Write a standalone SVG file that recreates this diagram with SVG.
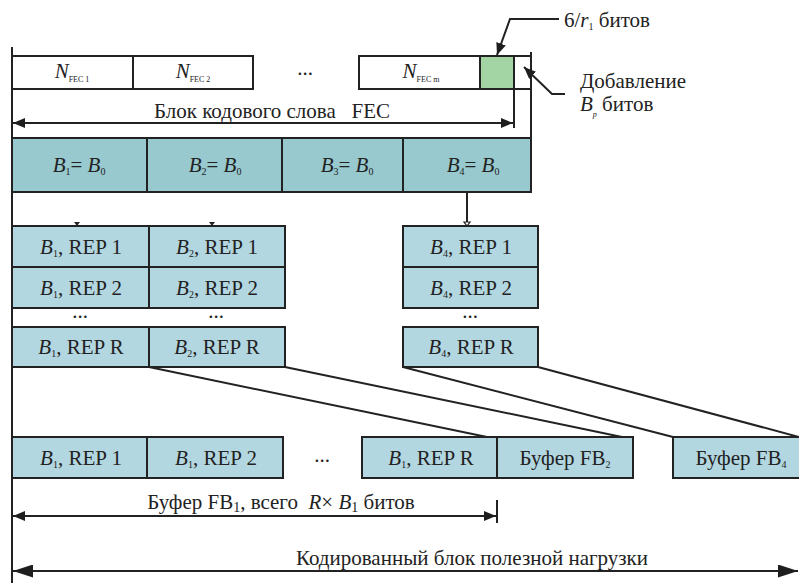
<svg xmlns="http://www.w3.org/2000/svg" width="799" height="583" viewBox="0 0 799 583" font-family="'Liberation Serif', 'Times New Roman', serif">
  <defs>
    <marker id="ah" viewBox="0 0 12 10" refX="12" refY="5" markerWidth="12" markerHeight="10" orient="auto-start-reverse" markerUnits="userSpaceOnUse">
      <path d="M0,0 L12,5 L0,10 z" fill="#1e1e1e"/>
    </marker>
    <marker id="ahL" viewBox="0 0 20 13" refX="20" refY="6.5" markerWidth="20" markerHeight="13" orient="auto-start-reverse" markerUnits="userSpaceOnUse">
      <path d="M0,0 L20,6.5 L0,13 z" fill="#1e1e1e"/>
    </marker>
  </defs>
  <style>
    .bx{stroke:#222;stroke-width:2}
    .w{fill:#fff}
    .g{fill:#a2d4a4}
    .t1{fill:#98c9cf}
    .t2{fill:#b3d7e1}
    text{fill:#222;font-size:21px}
    .c{text-anchor:middle}
    .i{font-style:italic}
    .ln{stroke:#222;stroke-width:2;fill:none}
    .s{font-size:10px}
    .xs{font-size:8px}
  </style>

  <rect width="799" height="583" fill="#fff"/>

  <!-- FEC codeword row -->
  <g id="fec1">
    <rect class="bx w" x="12" y="56" width="121" height="33"/>
    <text class="c" x="72" y="78"><tspan class="i">N</tspan><tspan class="xs" dy="4">FEC 1</tspan></text>
  </g>
  <g id="fec2">
    <rect class="bx w" x="133" y="56" width="120" height="33"/>
    <text class="c" x="193" y="78"><tspan class="i">N</tspan><tspan class="xs" dy="4">FEC 2</tspan></text>
  </g>
  <g id="fec-dots">
    <text class="c" x="305" y="75" font-size="16">...</text>
  </g>
  <g id="fecm">
    <rect class="bx w" x="359" y="56" width="121" height="33"/>
    <text class="c" x="421" y="78"><tspan class="i">N</tspan><tspan class="xs" dy="4">FEC m</tspan></text>
  </g>
  <g id="tail-bits">
    <rect class="bx g" x="480" y="56" width="34" height="33"/>
  </g>
  <g id="pad-bits">
    <rect class="bx w" x="514" y="56" width="17" height="33"/>
  </g>

  <!-- Block split B1..B4 -->
  <g id="blk1">
    <rect class="bx t1" x="12" y="138" width="135" height="54"/>
    <text class="c" x="79" y="172"><tspan class="i">B</tspan><tspan class="s" dy="3">1</tspan><tspan dy="-3">= </tspan><tspan class="i">B</tspan><tspan class="s" dy="3">0</tspan></text>
  </g>
  <g id="blk2">
    <rect class="bx t1" x="147" y="138" width="135" height="54"/>
    <text class="c" x="215" y="172"><tspan class="i">B</tspan><tspan class="s" dy="3">2</tspan><tspan dy="-3">= </tspan><tspan class="i">B</tspan><tspan class="s" dy="3">0</tspan></text>
  </g>
  <g id="blk3">
    <rect class="bx t1" x="282" y="138" width="121" height="54"/>
    <text class="c" x="347" y="172"><tspan class="i">B</tspan><tspan class="s" dy="3">3</tspan><tspan dy="-3">= </tspan><tspan class="i">B</tspan><tspan class="s" dy="3">0</tspan></text>
  </g>
  <g id="blk4">
    <rect class="bx t1" x="403" y="138" width="128" height="54"/>
    <text class="c" x="473" y="172"><tspan class="i">B</tspan><tspan class="s" dy="3">4</tspan><tspan dy="-3">= </tspan><tspan class="i">B</tspan><tspan class="s" dy="3">0</tspan></text>
  </g>

  <!-- Repetitions of B1 -->
  <g id="b1-rep1">
    <rect class="bx t2" x="12" y="226" width="137" height="41"/>
    <text class="c" x="81" y="254"><tspan class="i">B</tspan><tspan class="s" dy="3">1</tspan><tspan dy="-3">, REP 1</tspan></text>
  </g>
  <g id="b1-rep2">
    <rect class="bx t2" x="12" y="267" width="137" height="41"/>
    <text class="c" x="81" y="295"><tspan class="i">B</tspan><tspan class="s" dy="3">1</tspan><tspan dy="-3">, REP 2</tspan></text>
  </g>
  <g id="b1-dots"><text class="c" x="80" y="318" font-size="16">...</text></g>
  <g id="b1-repR">
    <rect class="bx t2" x="12" y="327" width="137" height="40"/>
    <text class="c" x="81" y="354"><tspan class="i">B</tspan><tspan class="s" dy="3">1</tspan><tspan dy="-3">, REP R</tspan></text>
  </g>

  <!-- Repetitions of B2 -->
  <g id="b2-rep1">
    <rect class="bx t2" x="149" y="226" width="136" height="41"/>
    <text class="c" x="217" y="254"><tspan class="i">B</tspan><tspan class="s" dy="3">2</tspan><tspan dy="-3">, REP 1</tspan></text>
  </g>
  <g id="b2-rep2">
    <rect class="bx t2" x="149" y="267" width="136" height="41"/>
    <text class="c" x="217" y="295"><tspan class="i">B</tspan><tspan class="s" dy="3">2</tspan><tspan dy="-3">, REP 2</tspan></text>
  </g>
  <g id="b2-dots"><text class="c" x="216" y="318" font-size="16">...</text></g>
  <g id="b2-repR">
    <rect class="bx t2" x="149" y="327" width="136" height="40"/>
    <text class="c" x="217" y="354"><tspan class="i">B</tspan><tspan class="s" dy="3">2</tspan><tspan dy="-3">, REP R</tspan></text>
  </g>

  <!-- Repetitions of B4 -->
  <g id="b4-rep1">
    <rect class="bx t2" x="403" y="226" width="135" height="41"/>
    <text class="c" x="471" y="254"><tspan class="i">B</tspan><tspan class="s" dy="3">4</tspan><tspan dy="-3">, REP 1</tspan></text>
  </g>
  <g id="b4-rep2">
    <rect class="bx t2" x="403" y="267" width="135" height="41"/>
    <text class="c" x="471" y="295"><tspan class="i">B</tspan><tspan class="s" dy="3">4</tspan><tspan dy="-3">, REP 2</tspan></text>
  </g>
  <g id="b4-dots"><text class="c" x="470" y="318" font-size="16">...</text></g>
  <g id="b4-repR">
    <rect class="bx t2" x="403" y="327" width="135" height="40"/>
    <text class="c" x="471" y="354"><tspan class="i">B</tspan><tspan class="s" dy="3">4</tspan><tspan dy="-3">, REP R</tspan></text>
  </g>

  <!-- Payload row -->
  <g id="fb1-rep1">
    <rect class="bx t2" x="12" y="437" width="135" height="41"/>
    <text class="c" x="81" y="465"><tspan class="i">B</tspan><tspan class="s" dy="3">1</tspan><tspan dy="-3">, REP 1</tspan></text>
  </g>
  <g id="fb1-rep2">
    <rect class="bx t2" x="147" y="437" width="136" height="41"/>
    <text class="c" x="216" y="465"><tspan class="i">B</tspan><tspan class="s" dy="3">1</tspan><tspan dy="-3">, REP 2</tspan></text>
  </g>
  <g id="fb1-dots"><text class="c" x="322" y="462" font-size="16">...</text></g>
  <g id="fb1-repR">
    <rect class="bx t2" x="362" y="437" width="135" height="41"/>
    <text class="c" x="431" y="465"><tspan class="i">B</tspan><tspan class="s" dy="3">1</tspan><tspan dy="-3">, REP R</tspan></text>
  </g>
  <g id="fb2">
    <rect class="bx t2" x="497" y="437" width="136" height="41"/>
    <text class="c" x="565" y="465">Буфер FB<tspan class="s" dy="3">2</tspan></text>
  </g>
  <g id="fb4">
    <rect class="bx t2" x="673" y="437" width="140" height="41"/>
    <text class="c" x="741" y="465">Буфер FB<tspan class="s" dy="3">4</tspan></text>
  </g>

  <!-- Annotations -->
  <g id="note-tail">
    <text x="564" y="27" font-size="20">6/<tspan class="i">r</tspan><tspan class="s" dy="3">1</tspan><tspan dy="-3"> битов</tspan></text>
  </g>
  <g id="note-pad">
    <text x="580" y="88">Добавление</text>
    <text x="580" y="111"><tspan class="i">B</tspan><tspan class="i xs" dy="6">p</tspan><tspan dy="-6"> битов</tspan></text>
  </g>
  <g id="label-fec">
    <text class="c" x="272" y="118" font-size="20">Блок кодового слова&#160;&#160; FEC</text>
  </g>
  <g id="label-fb1">
    <text class="c" x="281" y="509" font-size="20">Буфер FB<tspan font-size="14" dy="3">1</tspan><tspan dy="-3">, всего&#160; </tspan><tspan class="i">R</tspan>× <tspan class="i">B</tspan><tspan font-size="14" dy="3">1</tspan><tspan dy="-3"> битов</tspan></text>
  </g>
  <g id="label-payload">
    <text class="c" x="472" y="565" font-size="20">Кодированный блок полезной нагрузки</text>
  </g>

  <!-- Connectors -->
  <g id="connectors">
    <!-- extension lines -->
    <line class="ln" x1="12" y1="47" x2="12" y2="583"/>
    <line class="ln" x1="514" y1="56" x2="514" y2="128"/>
    <line class="ln" x1="531" y1="52" x2="531" y2="138"/>
    <line class="ln" x1="497" y1="500" x2="497" y2="523"/>

    <!-- dimension arrows -->
    <line class="ln" x1="13" y1="123" x2="513" y2="123" marker-start="url(#ah)" marker-end="url(#ah)"/>
    <line class="ln" x1="13" y1="516" x2="496" y2="516" marker-start="url(#ah)" marker-end="url(#ah)"/>
    <line class="ln" x1="13" y1="571" x2="798" y2="571" marker-start="url(#ahL)" marker-end="url(#ahL)"/>

    <!-- callouts -->
    <polyline class="ln" points="559,19 510,19 497,55" marker-end="url(#ah)"/>
    <polyline class="ln" points="565,94 552,94 524,67" marker-end="url(#ah)"/>

    <!-- block to repetition -->
    <polygon points="74,222 80,222 77,226" fill="#222"/>
    <polygon points="209,222 215,222 212,226" fill="#222"/>
    <line class="ln" x1="467" y1="192" x2="467" y2="222"/>
    <polygon points="464,222 470,222 467,226" fill="#fff" stroke="#222" stroke-width="1.2"/>

    <!-- repetitions into payload buffers -->
    <line class="ln" x1="149" y1="367" x2="487" y2="437"/>
    <line class="ln" x1="285" y1="367" x2="622" y2="437"/>
    <line class="ln" x1="403" y1="367" x2="673" y2="437"/>
    <line class="ln" x1="538" y1="367" x2="799" y2="437"/>
  </g>
</svg>
